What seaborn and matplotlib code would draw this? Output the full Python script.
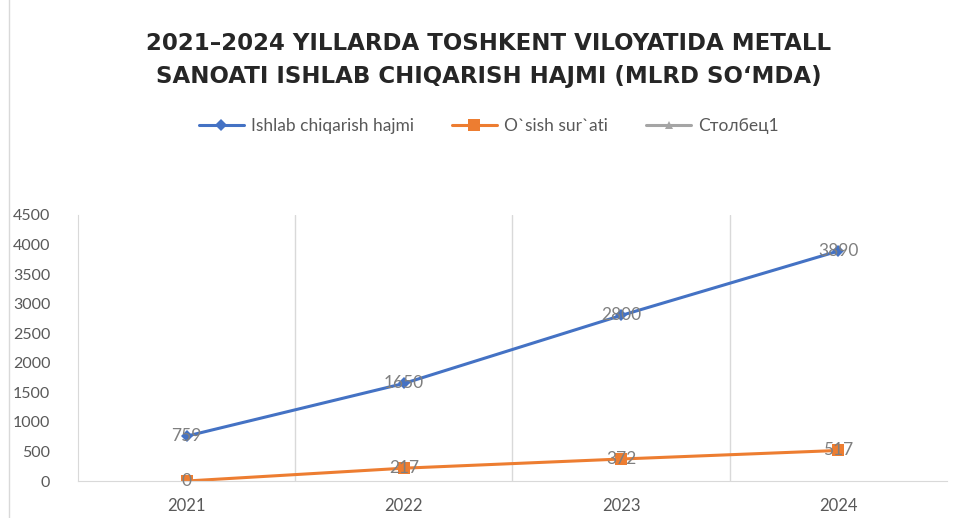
import numpy as np
import pandas as pd
import seaborn as sns
import matplotlib.pyplot as plt
from matplotlib.patches import Rectangle

# Data
years = ["2021", "2022", "2023", "2024"]
ishlab = [759, 1650, 2800, 3890]
osish = [0, 217, 372, 517]
stolbets = [np.nan, np.nan, np.nan, np.nan]

title = "2021–2024 YILLARDA TOSHKENT VILOYATIDA METALL\nSANOATI ISHLAB CHIQARISH HAJMI (MLRD SO‘MDA)"

sns.set_style("white")
plt.rcParams["font.family"] = ["Lato", "DejaVu Sans"]

df = pd.DataFrame({"x": np.arange(len(years)), "ishlab": ishlab, "osish": osish, "stolbets": stolbets})

fig = plt.figure(figsize=(9.58, 5.18), dpi=100)
ax = fig.add_axes([0.0814, 0.0714, 0.9071, 0.5136])

sns.lineplot(data=df, x="x", y="ishlab", ax=ax, color="#4472C4", linewidth=2.2,
             marker="D", markersize=6, markeredgewidth=0, label="Ishlab chiqarish hajmi")
sns.lineplot(data=df, x="x", y="osish", ax=ax, color="#ED7D31", linewidth=2.2,
             marker="s", markersize=8, markeredgewidth=0, label="O`sish sur`ati")
ax.plot(df["x"], df["stolbets"], color="#A5A5A5", linewidth=2.2,
        marker="^", markersize=6, markeredgewidth=0, label="Столбец1")

# data labels
for i, v in enumerate(ishlab):
    ax.text(i, v, str(v), ha="center", va="center", color="#7F7F7F", fontsize=12.5)
for i, v in enumerate(osish):
    ax.text(i, v, str(v), ha="center", va="center", color="#7F7F7F", fontsize=12.5)

ax.set_xlim(-0.5, len(years) - 0.5)
ax.set_ylim(0, 4500)
ax.set_yticks(np.arange(0, 4501, 500))
ax.set_xticks(np.arange(len(years)))
ax.set_xticklabels(years)
ax.set_xlabel("")
ax.set_ylabel("")
ax.tick_params(axis="y", colors="#595959", labelsize=11.5, length=0, pad=20)
ax.tick_params(axis="x", colors="#595959", labelsize=12, length=0, pad=12)

# vertical gridlines between categories
ax.set_xticks(np.arange(0.5, len(years) - 0.5, 1), minor=True)
ax.grid(which="minor", axis="x", color="#D9D9D9", linewidth=1)
ax.grid(which="major", visible=False)
for s in ["top", "right"]:
    ax.spines[s].set_visible(False)
ax.spines["left"].set_color("#D9D9D9")
ax.spines["bottom"].set_color("#D9D9D9")

fig.text(0.51, 0.885, title, ha="center", va="center", fontsize=16.5, fontweight="bold",
         color="#262626", family="DejaVu Sans", linespacing=1.55)

handles, labels = ax.get_legend_handles_labels()
if ax.legend_:
    ax.legend_.remove()
fig.legend(handles, labels, loc="center", bbox_to_anchor=(0.51, 0.757), ncol=3,
           frameon=False, fontsize=12.5, labelcolor="#595959", handlelength=2.6,
           handletextpad=0.4, columnspacing=2.2)

fig.patches.append(Rectangle((0.009, -0.01), 0.995, 1.03, transform=fig.transFigure,
                             fill=False, edgecolor="#D9D9D9", linewidth=1))

fig.savefig("out.png", dpi=100)
